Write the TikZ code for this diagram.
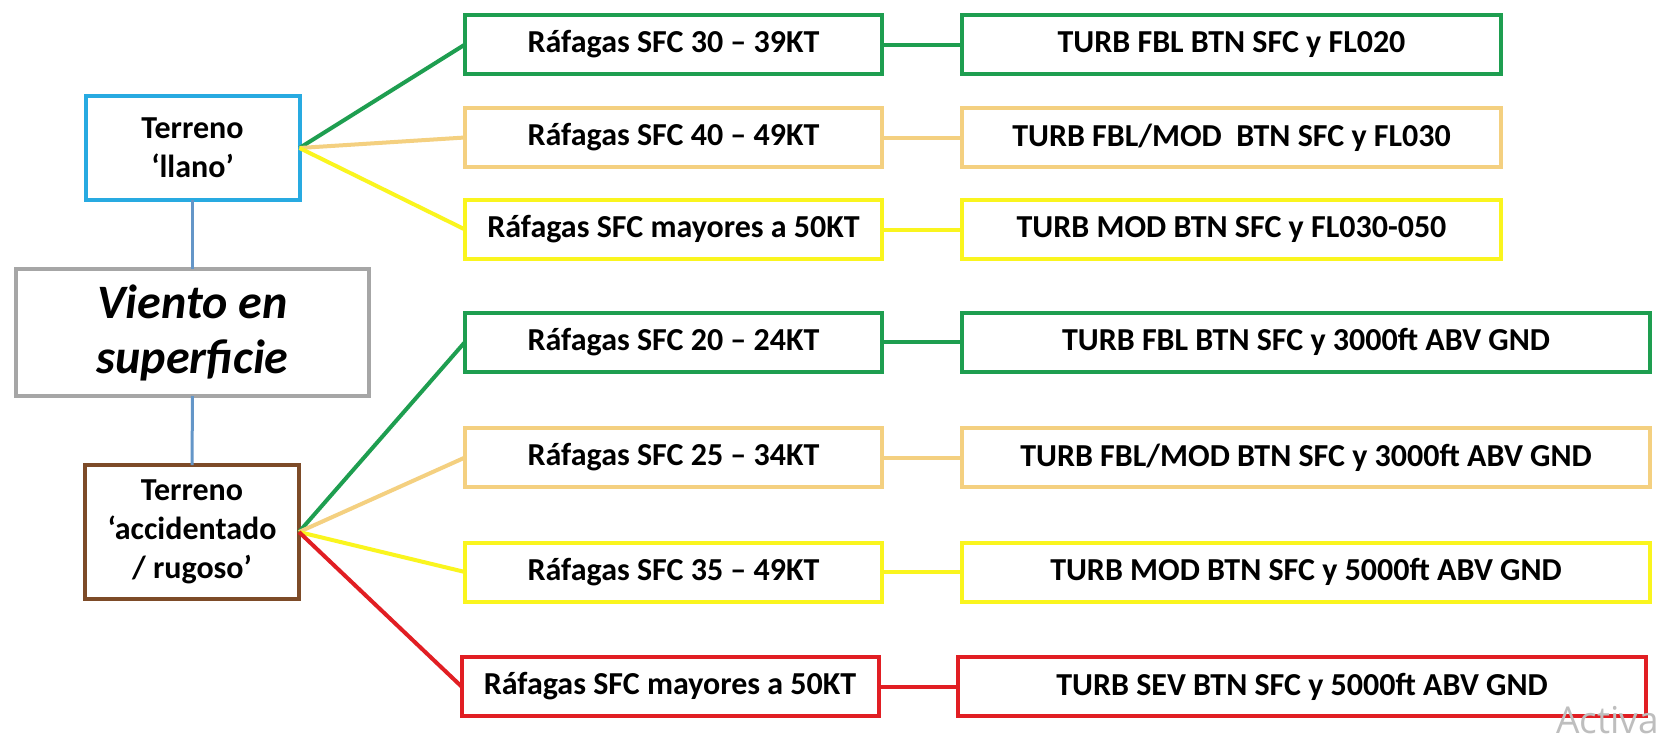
\documentclass[tikz,border=0pt]{standalone}
\usepackage{fontspec}
\setmainfont{Carlito}
\newfontfamily\wmfont{Open Sans}
\definecolor{cgreen}{RGB}{30,158,80}
\definecolor{ctan}{RGB}{244,208,128}
\definecolor{cyel}{RGB}{250,245,30}
\definecolor{cred}{RGB}{225,30,35}
\definecolor{cblue}{RGB}{40,170,225}
\definecolor{cgray}{RGB}{166,166,166}
\definecolor{cbrown}{RGB}{125,75,40}
\definecolor{clink}{RGB}{100,150,200}
\definecolor{cwm}{RGB}{190,190,190}
\begin{document}
\begin{tikzpicture}[x=1pt,y=-1pt,
  every node/.style={inner sep=0pt, outer sep=0pt},
  basebox/.style={draw, line width=4pt, fill=white, align=center, text=black},
  smallbox/.style={basebox, minimum height=59pt, font=\bfseries\fontsize{32}{38}\selectfont},
  rbox/.style={smallbox, minimum width=417pt},
  tbox/.style={smallbox, minimum width=539pt},
  tlbox/.style={smallbox, minimum width=688pt},
  terbox/.style={basebox, minimum width=214pt, font=\bfseries\fontsize{32}{39}\selectfont},
  link/.style={line width=4pt},
  vlink/.style={line width=3pt, draw=clink}
]
\useasboundingbox (0,0) rectangle (1660,736);
\fill[white] (0,0) rectangle (1660,736);

% left column
\node[terbox, draw=cblue, minimum height=104pt] (llano) at (192.5,148) {Terreno\\‘llano’};
\node[basebox, draw=cgray, minimum width=353pt, minimum height=127pt,
      font=\bfseries\itshape\fontsize{48}{55}\selectfont] (viento) at (192.5,332.5) {Viento en\\superficie};
\node[terbox, draw=cbrown, minimum height=134pt] (acc) at (192,532) {Terreno\\‘accidentado\\/ rugoso’};

% upper branch
\node[rbox, draw=cgreen] (r1) at (673.5,44.5) {Ráfagas SFC 30 – 39KT};
\node[rbox, draw=ctan] (r2) at (673.5,137.5) {Ráfagas SFC 40 – 49KT};
\node[rbox, draw=cyel] (r3) at (673.5,229.5) {Ráfagas SFC mayores a 50KT};
\node[tbox, draw=cgreen] (t1) at (1231.5,44.5) {TURB FBL BTN SFC y FL020};
\node[tbox, draw=ctan] (t2) at (1231.5,137.5) {TURB FBL/MOD\ \ BTN SFC y FL030};
\node[tbox, draw=cyel] (t3) at (1231.5,229.5) {TURB MOD BTN SFC y FL030-050};

% lower branch
\node[rbox, draw=cgreen] (ra) at (673.5,342) {Ráfagas SFC 20 – 24KT};
\node[rbox, draw=ctan] (rb) at (673.5,457.5) {Ráfagas SFC 25 – 34KT};
\node[rbox, draw=cyel] (rc) at (673.5,572) {Ráfagas SFC 35 – 49KT};
\node[rbox, draw=cred] (rd) at (670,686.5) {Ráfagas SFC mayores a 50KT};
\node[tlbox, draw=cgreen] (ta) at (1306,342) {TURB FBL BTN SFC y 3000ft ABV GND};
\node[tlbox, draw=ctan] (tb) at (1306,457.5) {TURB FBL/MOD BTN SFC y 3000ft ABV GND};
\node[tlbox, draw=cyel] (tc) at (1306,572) {TURB MOD BTN SFC y 5000ft ABV GND};
\node[tlbox, draw=cred] (td) at (1302,686.5) {TURB SEV BTN SFC y 5000ft ABV GND};

% vertical links
\draw[vlink] (llano.south) -- (viento.north);
\draw[vlink] (viento.south) -- (acc.north);

% fan-out links
\draw[link, cgreen] (llano.east) -- (r1.west);
\draw[link, ctan] (llano.east) -- (r2.west);
\draw[link, cyel] (llano.east) -- (r3.west);
\draw[link, cgreen] (acc.east) -- (ra.west);
\draw[link, ctan] (acc.east) -- (rb.west);
\draw[link, cyel] (acc.east) -- (rc.west);
\draw[link, cred] (acc.east) -- (rd.west);

% straight links
\draw[link, cgreen] (r1.east) -- (t1.west);
\draw[link, ctan] (r2.east) -- (t2.west);
\draw[link, cyel] (r3.east) -- (t3.west);
\draw[link, cgreen] (ra.east) -- (ta.west);
\draw[link, ctan] (rb.east) -- (tb.west);
\draw[link, cyel] (rc.east) -- (tc.west);
\draw[link, cred] (rd.east) -- (td.west);

% watermark
\node[anchor=base west, text=cwm, font=\wmfont\fontsize{37}{40}\selectfont] (wm) at (1556,733) {Activa};
\end{tikzpicture}
\end{document}
